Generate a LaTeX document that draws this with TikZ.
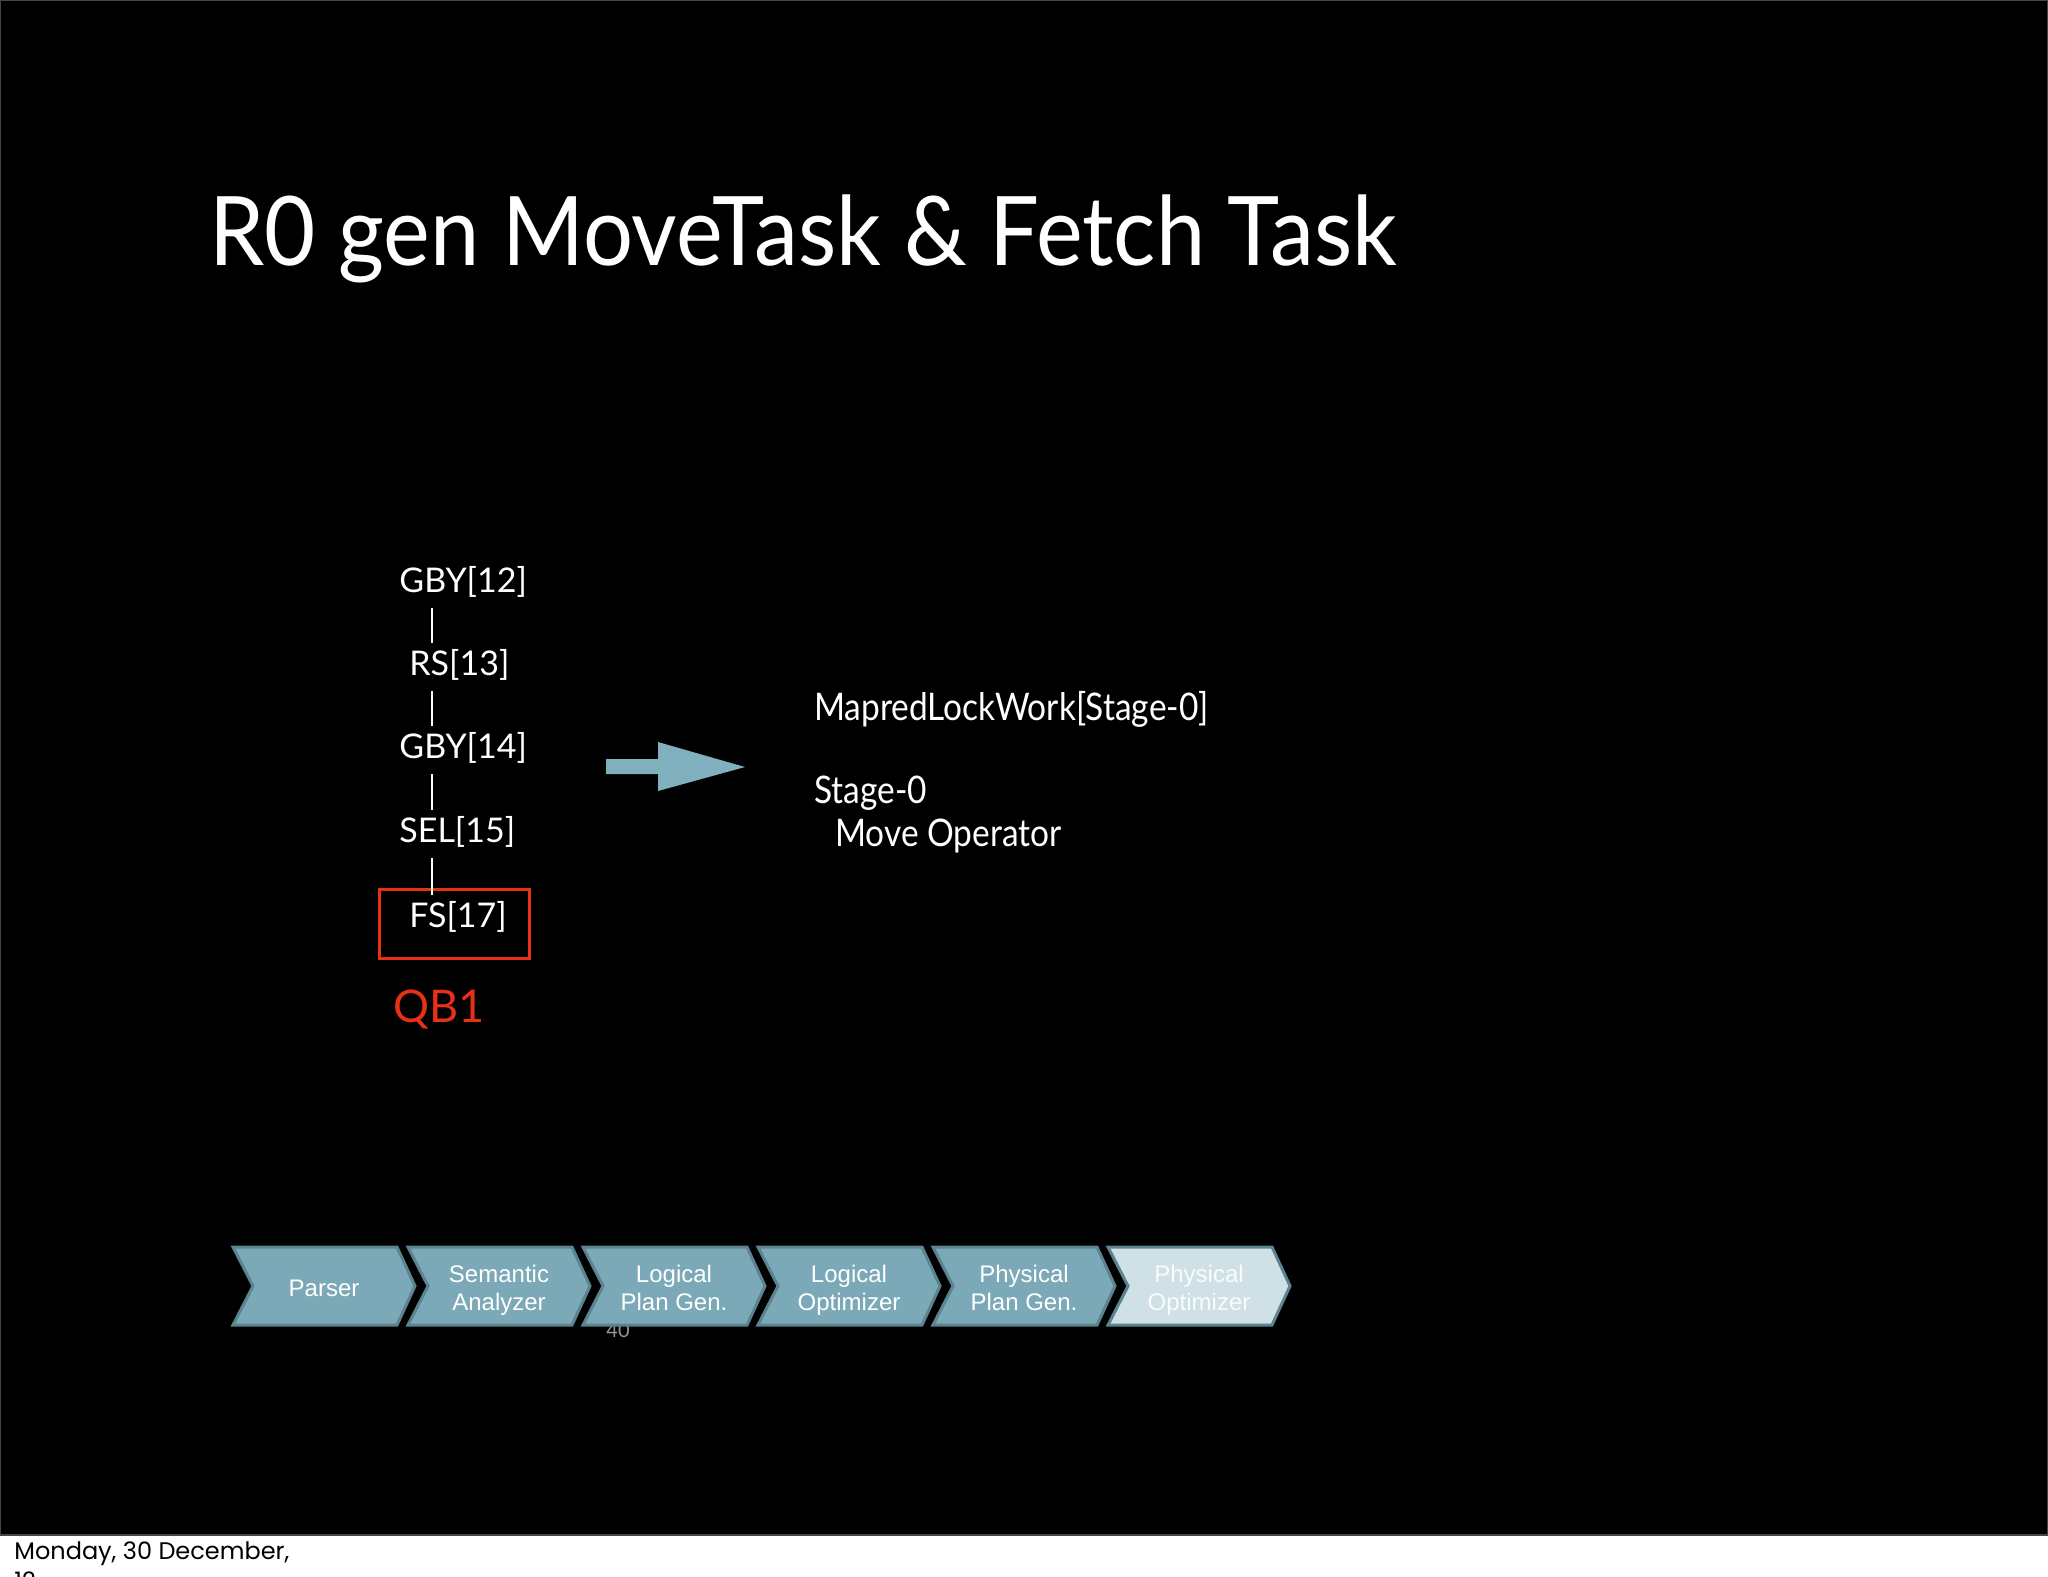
\documentclass[tikz,border=0pt]{standalone}
\usepackage{fontspec}
\setmainfont{Lato}
\newfontfamily\titlefont[FakeStretch=0.92]{Lato}
\newfontfamily\planfont[FakeStretch=0.88]{Lato}
\newfontfamily\stagefont{Liberation Sans}
\newfontfamily\datefont{Poppins}
\definecolor{stagefill}{RGB}{123,169,183}
\definecolor{stageedge}{RGB}{92,132,144}
\definecolor{stagelight}{RGB}{207,224,230}
\definecolor{arrowblue}{RGB}{128,176,190}
\definecolor{qbred}{RGB}{232,48,22}
\definecolor{slideedge}{RGB}{70,70,70}
\definecolor{pagegrey}{RGB}{150,150,150}

\tikzset{
	op/.style={anchor=base west, text=white, inner sep=0pt, inner ysep=2pt,
		text height=12pt, text depth=4pt, font=\fontsize{17}{20}\selectfont},
	bar/.style={white, line width=1pt, shorten <=2pt, shorten >=2pt},
	plan/.style={anchor=base west, text=white, inner sep=0pt, font=\planfont\fontsize{19}{23}\selectfont},
	stage/.style={draw=stageedge, line width=1.5pt, line join=miter, fill=stagefill},
	stagetext/.style={text=white, align=center, inner sep=0pt,
		font=\stagefont\fontsize{12}{14}\selectfont},
	datetext/.style={anchor=base west, text=black, inner sep=0pt, font=\datefont\fontsize{12}{15}\selectfont}
}

\begin{document}
\begin{tikzpicture}[x=0.5pt, y=-0.5pt]

	\useasboundingbox (0,0) rectangle (2048,1576);
	\fill[white] (0,0) rectangle (2048,1576);
	\draw[slideedge, line width=0.75pt, fill=black] (0.5,0.5) rectangle (2047.5,1535);

	\node[anchor=base west, text=white, inner sep=0pt, font=\titlefont\fontsize{48}{58}\selectfont] (title) at (209,265) {R0 gen MoveTask \& Fetch Task};

	% operator tree
	\coordinate (barx) at (432,0);
	\node[op] (gby12) at (399,592) {GBY[12]};
	\node[op] (rs13) at (409,675) {RS[13]};
	\node[op] (gby14) at (399,758) {GBY[14]};
	\node[op] (sel15) at (399,842) {SEL[15]};
	\node[op] (fs17) at (409,927) {FS[17]};
	\node[draw=qbred, line width=1.5pt, minimum width=75pt, minimum height=34.5pt, inner sep=0pt] (qbox) at (454,923.5) {};

	\draw[bar] (gby12.south -| barx) -- (rs13.north -| barx);
	\draw[bar] (rs13.south -| barx) -- (gby14.north -| barx);
	\draw[bar] (gby14.south -| barx) -- (sel15.north -| barx);
	\draw[bar] (sel15.south -| barx) -- (fs17.north -| barx);

	\node[anchor=base west, text=qbred, inner sep=0pt, font=\fontsize{22.5}{27}\selectfont] (qb1) at (393,1022) {QB1};

	% arrow and plan
	\fill[arrowblue] (606,759) -- (658,759) -- (658,742) -- (745,767) -- (658,791) -- (658,774) -- (606,774) -- cycle;

	\node[plan] (work) at (814,720) {MapredLockWork[Stage-0]};
	\node[plan] (stage) at (814,803) {Stage-0};
	\node[plan] (moveop) at (835,846) {Move Operator};

	% compiler stages
	\node[anchor=base west, text=pagegrey, inner sep=0pt, font=\fontsize{10}{12}\selectfont] (pageno) at (606,1337) {40};

	\foreach \i/\txt in {0/Parser, 1/Semantic\\Analyzer, 2/Logical\\Plan Gen., 3/Logical\\Optimizer, 4/Physical\\Plan Gen.}
	{
		\draw[stage] (233+175*\i,1247) -- ++(164,0) -- ++(18,39) -- ++(-18,39) -- ++(-164,0) -- ++(20,-39) -- cycle;
		\node[stagetext] (st\i) at (324+175*\i,1291) {\strut\txt\strut};
	}
	\draw[stage, fill=stagelight] (1108,1247) -- ++(164,0) -- ++(18,39) -- ++(-18,39) -- ++(-164,0) -- ++(20,-39) -- cycle;
	\node[stagetext, text=white!96!stagefill] (st5) at (1199,1291) {\strut Physical\\Optimizer\strut};

	% footer
	\node[datetext] (date) at (14,1559) {Monday, 30 December,};
	\node[datetext] (dateyear) at (14,1589) {12};

\end{tikzpicture}
\end{document}
